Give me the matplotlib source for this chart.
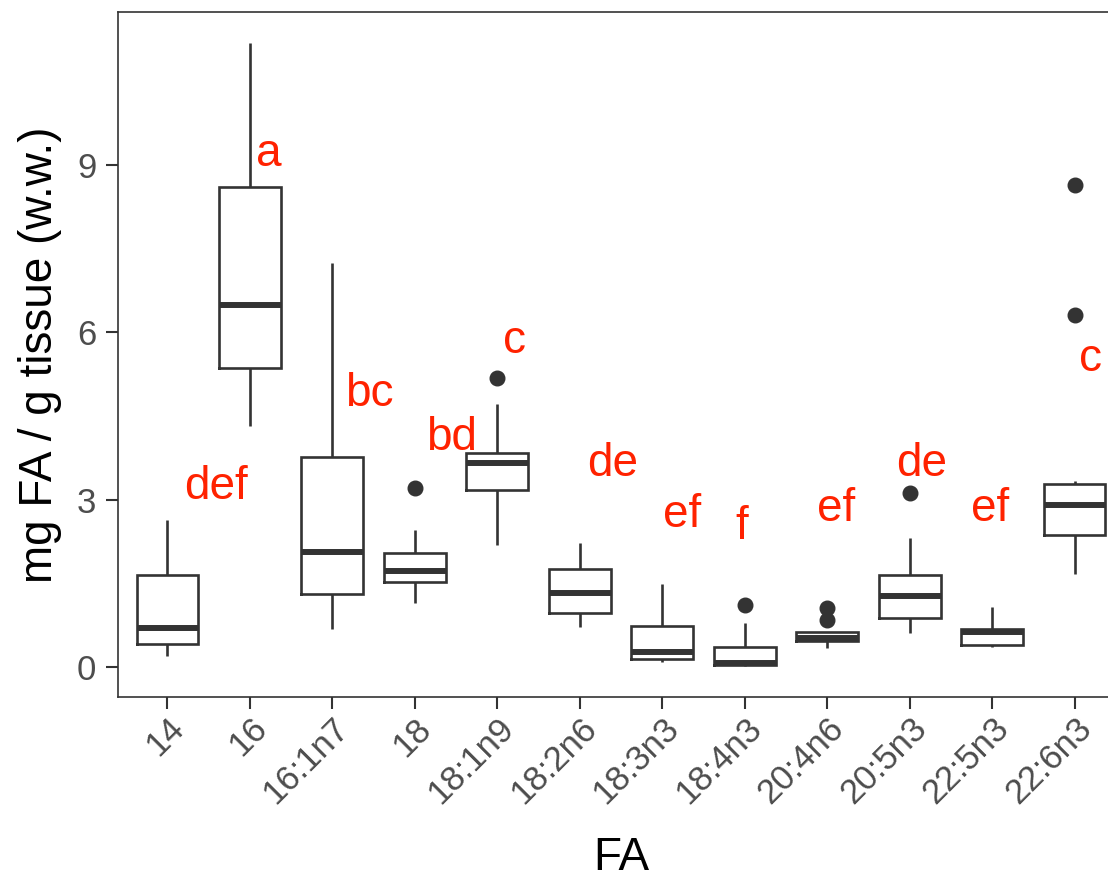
import matplotlib
matplotlib.use("Agg")
import matplotlib.pyplot as plt

plt.rcParams["font.family"] = ["Liberation Sans", "DejaVu Sans"]

# Fatty acids on the x axis
categories = ["14", "16", "16:1n7", "18", "18:1n9", "18:2n6", "18:3n3",
              "18:4n3", "20:4n6", "20:5n3", "22:5n3", "22:6n3"]

# Box-and-whisker summaries (mg FA / g tissue, wet weight)
whislo = [0.19, 4.32, 0.675, 1.15, 2.18, 0.72, 0.09, 0.02, 0.335, 0.61, 0.35, 1.67]
q1     = [0.42, 5.36, 1.30, 1.52, 3.18, 0.97, 0.14, 0.03, 0.46, 0.88, 0.39, 2.36]
med    = [0.69, 6.49, 2.06, 1.72, 3.66, 1.33, 0.27, 0.065, 0.52, 1.27, 0.62, 2.91]
q3     = [1.64, 8.61, 3.76, 2.04, 3.84, 1.75, 0.74, 0.35, 0.62, 1.64, 0.68, 3.28]
whishi = [2.63, 11.18, 7.24, 2.45, 4.71, 2.22, 1.48, 0.78, 0.63, 2.31, 1.07, 3.33]
outliers = [[], [], [], [3.21], [5.18], [], [], [1.105], [1.05, 0.85], [3.12], [],
            [8.64, 6.31]]

# Significance letters and where they sit (x in category units, y = baseline)
letters = ["def", "a", "bc", "bd", "c", "de", "ef", "f", "ef", "de", "ef", "c"]
letter_x = [1.585, 2.23, 3.45, 4.45, 5.21, 6.40, 7.24, 7.96, 9.11, 10.14, 10.98, 12.19]
letter_y = [3.015, 8.98, 4.675, 3.88, 5.62, 3.42, 2.50, 2.29, 2.615, 3.42, 2.615, 5.30]

y_ticks = [0, 3, 6, 9]

INK = "#333333"
TICK_TEXT = "#4D4D4D"
LETTER_RED = "#FF2200"

W, H = 1108, 880
fig = plt.figure(figsize=(W / 100, H / 100), dpi=100)
ax = fig.add_axes([118 / W, (H - 697) / H, (1124 - 118) / W, (697 - 12) / H])

positions = list(range(1, len(categories) + 1))
stats = [
    dict(label=c, whislo=lo, q1=a, med=m, q3=b, whishi=hi, fliers=f)
    for c, lo, a, m, b, hi, f in zip(categories, whislo, q1, med, q3, whishi, outliers)
]
ax.bxp(
    stats,
    positions=positions,
    widths=0.75,
    showcaps=False,
    boxprops=dict(color=INK, linewidth=1.9, solid_joinstyle="miter"),
    whiskerprops=dict(color=INK, linewidth=1.9, solid_capstyle="butt"),
    medianprops=dict(color=INK, linewidth=4.3, solid_capstyle="butt"),
    flierprops=dict(marker="o", markerfacecolor=INK, markeredgecolor=INK,
                    markersize=10.5, linestyle="none"),
)

for txt, x, y in zip(letters, letter_x, letter_y):
    ax.text(x, y, txt, color=LETTER_RED, fontsize=33, ha="center",
            va="baseline", zorder=5)

ax.set_xlim(0.4, len(categories) + 0.6)
ax.set_ylim(-0.538, 11.738)

ax.set_xticks(positions)
ax.set_xticklabels(categories, rotation=45, ha="right", va="top",
                   rotation_mode="anchor")
ax.set_yticks(y_ticks)
ax.set_yticklabels([str(v) for v in y_ticks])

ax.tick_params(axis="both", direction="out", length=8.6, width=1.5,
               color=INK, labelcolor=TICK_TEXT, labelsize=25)
ax.tick_params(axis="x", pad=2)
ax.tick_params(axis="y", pad=7)

for sp in ax.spines.values():
    sp.set_color(INK)
    sp.set_linewidth(1.2)

fig.text(52 / W, (H - 354.5) / H, "mg FA / g tissue (w.w.)", rotation=90,
         rotation_mode="anchor", ha="center", va="baseline", fontsize=33,
         color="black")
fig.text(621 / W, 10 / H, "FA", ha="center", va="baseline", fontsize=33,
         color="black")

fig.savefig("out.png", dpi=100)
